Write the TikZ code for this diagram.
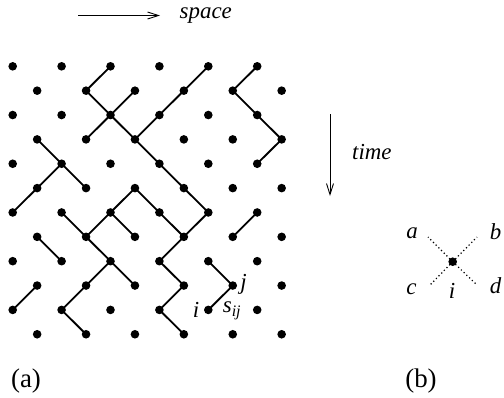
\documentclass[tikz,border=0pt]{standalone}
\usepackage{fontspec}
\setmainfont{Liberation Serif}
\usetikzlibrary{arrows.meta}
\tikzset{
  dot/.style={circle,fill=black,inner sep=0pt,minimum size=8.6bp},
  edge/.style={line width=1.8bp},
  arr/.style={line width=0.9bp,-{Straight Barb[length=11bp,width=7bp,line width=0.9bp]}},
  lab/.style={inner sep=0pt,font=\fontsize{23}{27}\selectfont\itshape},
  captext/.style={inner sep=0pt,font=\fontsize{27}{31}\selectfont},
  dots/.style={line width=1.2bp,dash pattern=on 1.2bp off 2.6bp},
}
\begin{document}
\begin{tikzpicture}[x=1bp,y=-1bp]
\useasboundingbox (0,0) rectangle (504,397);
% lattice of dots
\foreach \r in {0,...,11} {
  \foreach \k in {0,...,5} {
    \pgfmathtruncatemacro\c{2*\k+mod(\r,2)}
    \node[dot] (d\c-\r) at ({12.7+24.45*\c},{66.3+24.36*\r}) {};
  }
}
% connections
\foreach \a/\r/\b in {4/0/3, 8/0/7, 10/0/9,
  3/1/4, 5/1/4, 7/1/6, 9/1/10,
  4/2/3, 4/2/5, 6/2/5, 10/2/11,
  1/3/2, 5/3/6, 11/3/10,
  2/4/1, 2/4/3, 6/4/7,
  1/5/0, 5/5/4, 5/5/6, 7/5/8,
  2/6/3, 4/6/3, 4/6/5, 6/6/7, 8/6/7, 10/6/9,
  1/7/2, 3/7/4, 7/7/6,
  4/8/3, 4/8/5, 6/8/7, 8/8/9,
  1/9/0, 3/9/2, 7/9/6, 9/9/8,
  2/10/3, 6/10/7} {
  \pgfmathtruncatemacro\s{\r+1}
  \draw[edge] (d\a-\r.center) -- (d\b-\s.center);
}
% labels in lattice
\node[lab] (lj) at (243.5,284) {j};
\node[lab] (li) at (196,309.5) {i};
\node[lab] (ls) at (232,311) {s\textsubscript{ij}};
% space arrow
\coordinate (s0) at (78,15.5);
\coordinate (s1) at (160,15.5);
\draw[arr] (s0) -- (s1);
\node[lab,anchor=west] (space) at (179.5,16) {space};
% time arrow
\coordinate (t0) at (330,114);
\coordinate (t1) at (330,196);
\draw[arr] (t0) -- (t1);
\node[lab,anchor=west] (time) at (352,152) {time};
% (b) vertex
\node[dot] (v) at (452.7,261.7) {};
\coordinate (ea) at (428,237);
\coordinate (eb) at (477,237);
\coordinate (ec) at (430,285);
\coordinate (ed) at (477,285);
\draw[dots] (v.center) -- (ea);
\draw[dots] (v.center) -- (eb);
\draw[dots] (v.center) -- (ec);
\draw[dots] (v.center) -- (ed);
\node[lab] (la) at (412,233.5) {a};
\node[lab] (lb) at (495.5,231.5) {b};
\node[lab] (lc) at (411.5,289) {c};
\node[lab] (ld) at (495.5,285.5) {d};
\node[lab] (lvi) at (452,291) {i};
% captions
\node[captext] (ca) at (26,381) {(a)};
\node[captext] (cb) at (421,381) {(b)};
\end{tikzpicture}
\end{document}
